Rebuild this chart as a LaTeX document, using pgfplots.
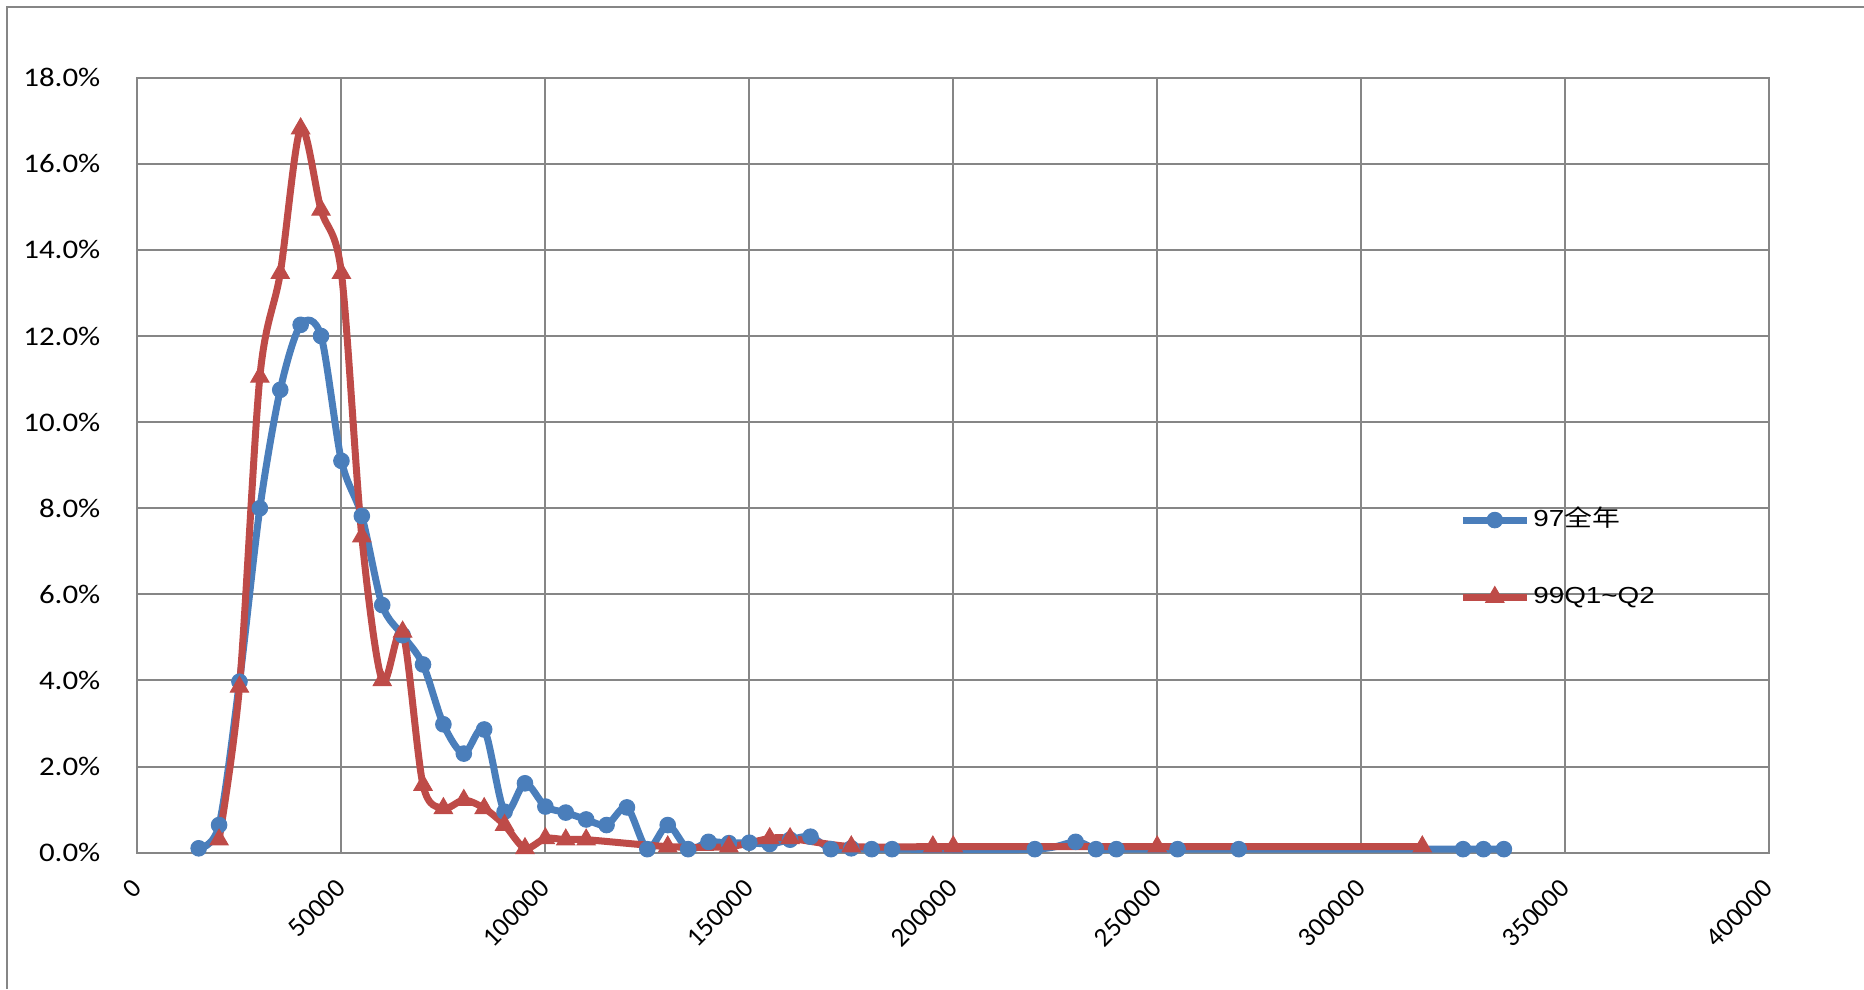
\documentclass[border=0pt]{standalone}
\usepackage{fontspec}
\setmainfont{Carlito}
\newfontfamily\cjk{Noto Sans CJK SC}
\newfontfamily\legfont{Liberation Sans}
\usepackage{graphicx}
\usepackage{pgfplots}
\pgfplotsset{compat=1.18}
\definecolor{gridgray}{HTML}{868686}
\definecolor{sblue}{HTML}{4A7EBB}
\definecolor{sred}{HTML}{BE4B48}
\newcommand\yl[1]{\scalebox{1.15}[1]{#1\%}}
\begin{document}
\begin{tikzpicture}
\path[use as bounding box] (0,0) rectangle (186.4mm,98.9mm);
\draw[gridgray, line width=0.2mm] (0.7mm,0) -- (0.7mm,98.15mm) -- (186.4mm,98.15mm);
\begin{axis}[
  at={(13.75mm,13.64mm)}, anchor=south west,
  scale only axis, width=163.15mm, height=77.49mm,
  xmin=0, xmax=400000, ymin=0, ymax=18,
  xtick={0,50000,100000,150000,200000,250000,300000,350000,400000},
  xticklabels={0,50000,100000,150000,200000,250000,300000,350000,400000},
  ytick={0,2,4,6,8,10,12,14,16,18},
  yticklabels={\yl{0.0},\yl{2.0},\yl{4.0},\yl{6.0},\yl{8.0},\yl{10.0},\yl{12.0},\yl{14.0},\yl{16.0},\yl{18.0}},
  scaled x ticks=false,
  /pgf/number format/assume math mode=true,
  grid=major,
  major grid style={draw=gridgray, line width=0.2mm},
  axis line style={draw=gridgray, line width=0.2mm},
  major tick length=0pt,
  ticklabel style={font=\fontsize{7.65pt}{9pt}\selectfont},
  yticklabel style={inner sep=0pt, xshift=-3.65mm},
  xticklabel style={yshift=-3.1mm, rotate=45, anchor=east, inner sep=0pt},
  clip=false,
  legend style={at={(axis cs:323900,6.83)}, anchor=west, draw=none, fill=none,
    font=\fontsize{6.6pt}{7pt}\legfont, row sep=5mm, inner sep=0pt,
    nodes={inner sep=0.3mm, text height=1.7mm, text depth=0.4mm}},
  legend cell align=left,
  legend image code/.code={\draw[mark repeat=2, mark phase=2] plot coordinates {(0mm,0mm) (3.2mm,0mm) (6.4mm,0mm)};},
]
\addplot[sblue, line width=0.7mm, smooth, mark=*, mark size=0.78mm,
  mark options={solid, line width=0.1mm, fill=sblue, draw=sblue}] coordinates {
(15000,0.10) (20000,0.64) (25000,3.97) (30000,8.0) (35000,10.75) (40000,12.26)
(45000,12.0) (50000,9.1) (55000,7.82) (60000,5.75) (65000,5.05) (70000,4.37)
(75000,2.98) (80000,2.3) (85000,2.86) (90000,0.95) (95000,1.61) (100000,1.07)
(105000,0.93) (110000,0.77) (115000,0.64) (120000,1.05) (125000,0.08) (130000,0.64)
(135000,0.08) (140000,0.25) (145000,0.22) (150000,0.23) (155000,0.2) (160000,0.3)
(165000,0.37) (170000,0.08) (175000,0.1) (180000,0.08) (185000,0.08)
(220000,0.08) (230000,0.25) (235000,0.08) (240000,0.08) (255000,0.08) (270000,0.08)
(325000,0.08) (330000,0.08) (335000,0.08)
};
\addlegendentry{\scalebox{1.2}[1]{97{\cjk 全年}}}
\addplot[sred, line width=0.7mm, smooth, mark=triangle*, mark size=1.05mm,
  mark options={solid, line width=0.1mm, fill=sred, draw=sred}] coordinates {
(20000,0.3) (25000,3.85) (30000,11.05) (35000,13.46) (40000,16.82) (45000,14.93)
(50000,13.46) (55000,7.34) (60000,4.0) (65000,5.13) (70000,1.57) (75000,1.03)
(80000,1.22) (85000,1.03) (90000,0.64) (95000,0.10) (100000,0.33) (105000,0.30)
(110000,0.30) (130000,0.14) (145000,0.14) (155000,0.33) (160000,0.33) (175000,0.14)
(195000,0.14) (200000,0.14) (250000,0.14) (315000,0.14)
};
\addlegendentry{\scalebox{1.2}[1]{99Q1\textasciitilde Q2}}
\end{axis}
\end{tikzpicture}
\end{document}
